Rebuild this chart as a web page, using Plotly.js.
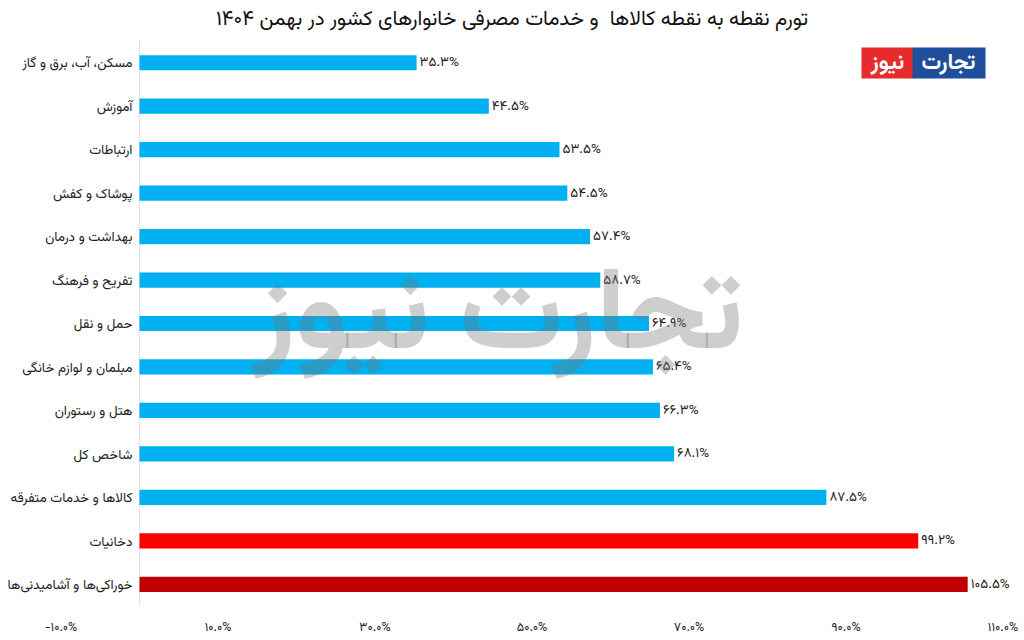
<!DOCTYPE html>
<html>
<head>
<meta charset="utf-8">
<script src="https://cdn.plot.ly/plotly-3.0.1.min.js"></script>
<style>html,body{margin:0;padding:0;background:#fff;}#chart{width:1024px;height:640px;}</style>
</head>
<body>
<div id="chart"></div>
<script>
const categories = [
  "مسکن، آب، برق و گاز",
  "آموزش",
  "ارتباطات",
  "پوشاک و کفش",
  "بهداشت و درمان",
  "تفریح و فرهنگ",
  "حمل و نقل",
  "مبلمان و لوازم خانگی",
  "هتل و رستوران",
  "شاخص کل",
  "کالاها و خدمات متفرقه",
  "دخانیات",
  "خوراکی‌ها و آشامیدنی‌ها"
];
const values = [35.3, 44.5, 53.5, 54.5, 57.4, 58.7, 64.9, 65.4, 66.3, 68.1, 87.5, 99.2, 105.5];
const barColors = ["#00B0F0","#00B0F0","#00B0F0","#00B0F0","#00B0F0","#00B0F0","#00B0F0","#00B0F0","#00B0F0","#00B0F0","#00B0F0","#FF0000","#C00000"];
const tickValues = [-10, 10, 30, 50, 70, 90, 110];
const tickLabels = ["-۱۰.۰%", "۱۰.۰%", "۳۰.۰%", "۵۰.۰%", "۷۰.۰%", "۹۰.۰%", "۱۱۰.۰%"];
const titleText = "تورم نقطه به نقطه کالاها  و خدمات مصرفی خانوارهای کشور در بهمن ۱۴۰۴";

const faDigits = "۰۱۲۳۴۵۶۷۸۹";
function toFa(s){ return s.replace(/[0-9]/g, d => faDigits[+d]); }
const labels = values.map(v => toFa(v.toFixed(1)) + "%");

const FONT = "Vazirmatn, 'Noto Sans Arabic', 'DejaVu Sans', sans-serif";

const trace = {
  type: "bar",
  orientation: "h",
  x: values,
  y: categories,
  marker: {color: barColors},
  text: labels,
  textposition: "outside",
  constraintext: "none",
  cliponaxis: false,
  textfont: {family: FONT, size: 13.5, color: "#222"},
  hoverinfo: "none"
};

const L = 61, R = 21, T = 41, B = 34;
const W = 1024 - L - R, H = 640 - T - B;
function px(x){ return (x - L) / W; }
function py(y){ return (640 - B - y) / H; }

const layout = {
  width: 1024, height: 640,
  margin: {l: L, r: R, t: T, b: B},
  paper_bgcolor: "#fff", plot_bgcolor: "#fff",
  showlegend: false,
  bargap: 0.65,
  font: {family: FONT, color: "#222"},
  title: {text: titleText, font: {family: FONT, size: 20.5, color: "#111"}, x: 0.5, xanchor: "center", y: 0.972, yanchor: "middle"},
  xaxis: {
    range: [-10, 110],
    tickvals: tickValues, ticktext: tickLabels,
    showgrid: false, showline: false,
    zeroline: true, zerolinecolor: "#E3E3E3", zerolinewidth: 1,
    ticks: "", ticklabelstandoff: 11,
    tickfont: {family: FONT, size: 12.5, color: "#222"},
    fixedrange: true
  },
  yaxis: {
    type: "category",
    autorange: "reversed",
    anchor: "free", position: 1/12,
    showgrid: false, showline: false, zeroline: false,
    ticks: "", ticklabelstandoff: 7,
    tickfont: {family: FONT, size: 13.5, color: "#222"},
    fixedrange: true
  },
  annotations: [
    {xref: "paper", yref: "paper", x: px(497), y: py(319), xanchor: "center", yanchor: "middle",
     text: "<b>تجارت نیوز</b>", showarrow: false,
     font: {family: FONT, size: 116, color: "rgba(120,120,120,0.36)"}},
    {xref: "paper", yref: "paper", x: px(948.5), y: py(63), xanchor: "center", yanchor: "middle",
     text: "<b>تجارت</b>", showarrow: false, width: 69, height: 26, bgcolor: "#1F4E9C", borderpad: 2,
     font: {family: FONT, size: 22, color: "#fff"}},
    {xref: "paper", yref: "paper", x: px(887), y: py(63), xanchor: "center", yanchor: "middle",
     text: "<b>نیوز</b>", showarrow: false, width: 46, height: 26, bgcolor: "#E52B2B", borderpad: 2,
     font: {family: FONT, size: 22, color: "#fff"}}
  ]
};

Plotly.newPlot("chart", [trace], layout, {displayModeBar: false, staticPlot: true});
</script>
</body>
</html>
